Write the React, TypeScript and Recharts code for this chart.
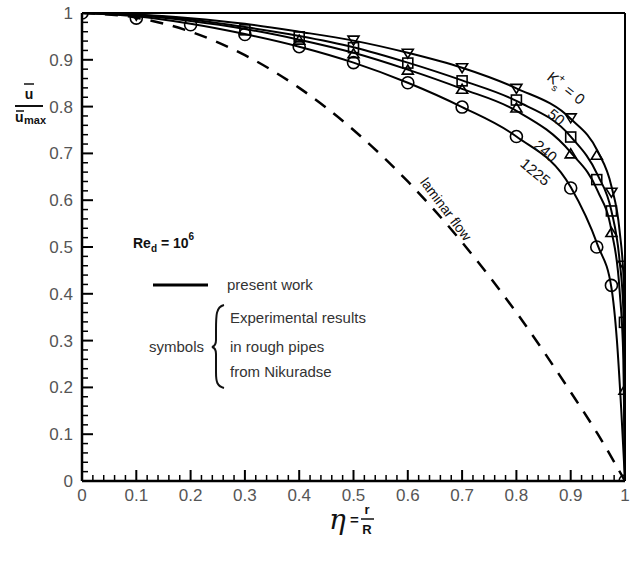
import React from 'react';
import {
  ComposedChart,
  Line,
  Scatter,
  XAxis,
  YAxis,
  ReferenceLine,
} from 'recharts';

// Velocity profiles u/umax against eta = r/R, Re_d = 10^6
const profileKs0 = [
  [0, 1], [0.1, 0.997], [0.2, 0.989], [0.3, 0.977], [0.4, 0.96], [0.5, 0.941],
  [0.6, 0.915], [0.7, 0.883], [0.8, 0.839], [0.9, 0.774], [0.95, 0.704],
  [0.975, 0.63], [0.99, 0.535], [0.998, 0.418], [1, 0],
];
const profileKs50 = [
  [0, 1], [0.1, 0.996], [0.2, 0.986], [0.3, 0.97], [0.4, 0.951], [0.5, 0.927],
  [0.6, 0.894], [0.7, 0.856], [0.8, 0.812], [0.9, 0.736], [0.95, 0.653],
  [0.975, 0.577], [0.99, 0.471], [0.997, 0.365], [1, 0],
];
const profileKs240 = [
  [0, 1], [0.1, 0.995], [0.2, 0.983], [0.3, 0.966], [0.4, 0.943], [0.5, 0.915],
  [0.6, 0.879], [0.7, 0.838], [0.8, 0.791], [0.9, 0.702], [0.95, 0.619],
  [0.975, 0.535], [0.99, 0.408], [0.997, 0.26], [1, 0],
];
const profileKs1225 = [
  [0, 1], [0.1, 0.993], [0.2, 0.977], [0.3, 0.955], [0.4, 0.928], [0.5, 0.894],
  [0.6, 0.851], [0.7, 0.799], [0.8, 0.736], [0.9, 0.628], [0.95, 0.503],
  [0.975, 0.413], [0.985, 0.302], [0.993, 0.154], [1, 0],
];
const laminar = [
  [0, 1], [0.1, 0.99], [0.2, 0.96], [0.3, 0.91], [0.4, 0.84], [0.5, 0.75],
  [0.6, 0.64], [0.7, 0.51], [0.8, 0.36], [0.9, 0.19], [0.95, 0.1], [1, 0],
];

// Nikuradse measurements
const downTriangles = [
  [0.1, 0.995], [0.5, 0.942], [0.6, 0.914], [0.7, 0.883], [0.8, 0.839],
  [0.9, 0.776], [0.975, 0.617], [0.998, 0.461],
];
const squares = [
  [0.3, 0.964], [0.4, 0.949], [0.5, 0.926], [0.6, 0.893], [0.7, 0.855],
  [0.8, 0.814], [0.9, 0.735], [0.948, 0.644], [0.975, 0.577], [0.999, 0.339],
];
const upTriangles = [
  [0.4, 0.942], [0.5, 0.913], [0.6, 0.878], [0.7, 0.837], [0.8, 0.797],
  [0.9, 0.699], [0.948, 0.696], [0.975, 0.531], [0.999, 0.194],
];
const circles = [
  [0, 1], [0.1, 0.989], [0.2, 0.975], [0.3, 0.954], [0.4, 0.928], [0.5, 0.894],
  [0.6, 0.851], [0.7, 0.799], [0.8, 0.736], [0.9, 0.626], [0.948, 0.5],
  [0.975, 0.418], [1, 0],
];

const axisTicks = Array.from({ length: 51 }, (_, i) => i / 50);

const toPoints = (rows: number[][]) => rows.map(([eta, u]) => ({ eta, u }));

const isMajor = (v: number) => Math.abs(v * 10 - Math.round(v * 10)) < 1e-6;
const fmt = (v: number) => (v === 0 ? '0' : v === 1 ? '1' : v.toFixed(1));

const tickFont = { fontFamily: 'Liberation Sans, Arial, sans-serif', fontSize: 17, fill: '#555' };

const XTick = ({ x, y, payload }: any) => {
  const v = payload.value;
  const major = isMajor(v);
  return (
    <g>
      <line x1={x} y1={y} x2={x} y2={y - (major ? 11 : 6)} stroke="#000" strokeWidth={major ? 2 : 1.5} />
      {major && (
        <text x={x} y={y + 20} textAnchor="middle" {...tickFont}>{fmt(v)}</text>
      )}
    </g>
  );
};

const YTick = ({ x, y, payload }: any) => {
  const v = payload.value;
  const major = isMajor(v);
  return (
    <g>
      <line x1={x} y1={y} x2={x + (major ? 11 : 6)} y2={y} stroke="#000" strokeWidth={major ? 2 : 1.5} />
      {major && (
        <text x={x - 9} y={y + 6} textAnchor="end" {...tickFont}>{fmt(v)}</text>
      )}
    </g>
  );
};

const symbolStroke = { stroke: '#000', strokeWidth: 1.6, fill: 'none' };

const DownTri = ({ cx, cy }: any) => (
  <path d={`M${cx - 5.5},${cy - 4} L${cx + 5.5},${cy - 4} L${cx},${cy + 5} Z`} {...symbolStroke} />
);
const UpTri = ({ cx, cy }: any) => (
  <path d={`M${cx - 5.5},${cy + 4} L${cx + 5.5},${cy + 4} L${cx},${cy - 5} Z`} {...symbolStroke} />
);
const Square = ({ cx, cy }: any) => (
  <rect x={cx - 5} y={cy - 5} width={10} height={10} {...symbolStroke} />
);
const Circle = ({ cx, cy }: any) => <circle cx={cx} cy={cy} r={6} {...symbolStroke} />;

const labelFont = { fontFamily: 'Liberation Sans, Arial, sans-serif', fill: '#111' };

export default function App() {
  document.body.style.margin = '0';
  return (
    <div style={{ position: 'relative', width: 634, height: 567, background: '#fff' }}>
      <ComposedChart width={634} height={567} margin={{ top: 13, right: 9, left: 0, bottom: 0 }}>
        <XAxis
          dataKey="eta"
          type="number"
          domain={[0, 1]}
          ticks={axisTicks}
          interval={0}
          allowDataOverflow
          height={86}
          tickSize={0}
          tickMargin={0}
          tickLine={false}
          axisLine={{ stroke: '#000', strokeWidth: 2.5 }}
          tick={<XTick />}
        />
        <YAxis
          dataKey="u"
          type="number"
          domain={[0, 1]}
          ticks={axisTicks}
          interval={0}
          allowDataOverflow
          width={82}
          tickSize={0}
          tickMargin={0}
          tickLine={false}
          axisLine={{ stroke: '#000', strokeWidth: 2.5 }}
          tick={<YTick />}
        />
        <ReferenceLine y={1} stroke="#000" strokeWidth={2} />
        <ReferenceLine x={1} stroke="#000" strokeWidth={2} />

        <Line data={toPoints(laminar)} dataKey="u" type="monotone" stroke="#000" strokeWidth={2.5}
          strokeDasharray="13 10" dot={false} activeDot={false} isAnimationActive={false} />
        <Line data={toPoints(profileKs0)} dataKey="u" type="monotone" stroke="#000" strokeWidth={2}
          dot={false} activeDot={false} isAnimationActive={false} />
        <Line data={toPoints(profileKs50)} dataKey="u" type="monotone" stroke="#000" strokeWidth={2}
          dot={false} activeDot={false} isAnimationActive={false} />
        <Line data={toPoints(profileKs240)} dataKey="u" type="monotone" stroke="#000" strokeWidth={2}
          dot={false} activeDot={false} isAnimationActive={false} />
        <Line data={toPoints(profileKs1225)} dataKey="u" type="monotone" stroke="#000" strokeWidth={2}
          dot={false} activeDot={false} isAnimationActive={false} />

        <Scatter data={toPoints(downTriangles)} dataKey="u" shape={<DownTri />} isAnimationActive={false} />
        <Scatter data={toPoints(squares)} dataKey="u" shape={<Square />} isAnimationActive={false} />
        <Scatter data={toPoints(upTriangles)} dataKey="u" shape={<UpTri />} isAnimationActive={false} />
        <Scatter data={toPoints(circles)} dataKey="u" shape={<Circle />} isAnimationActive={false} />
      </ComposedChart>

      {/* annotations, legend and axis titles */}
      <svg width={634} height={567} style={{ position: 'absolute', left: 0, top: 0, pointerEvents: 'none' }}>
        {/* y axis title: u / u_max */}
        <g {...labelFont} fontWeight="bold">
          <line x1={24} y1={84} x2={34} y2={84} stroke="#111" strokeWidth={1.5} />
          <text x={29} y={99} fontSize={14} textAnchor="middle">u</text>
          <line x1={15} y1={106} x2={43} y2={106} stroke="#111" strokeWidth={2} />
          <line x1={16} y1={111} x2={24} y2={111} stroke="#111" strokeWidth={1.5} />
          <text x={15} y={122} fontSize={14}>u</text>
          <text x={24} y={124} fontSize={11}>max</text>
        </g>

        {/* x axis title: eta = r / R */}
        <g {...labelFont}>
          <text x={329} y={529} fontSize={28} fontStyle="italic" fontFamily="DejaVu Serif, serif">η</text>
          <text x={350} y={525} fontSize={15} fontWeight="bold">=</text>
          <text x={367} y={514} fontSize={13} fontWeight="bold" textAnchor="middle">r</text>
          <line x1={361} y1={519} x2={374} y2={519} stroke="#111" strokeWidth={1.5} />
          <text x={367} y={534} fontSize={13} fontWeight="bold" textAnchor="middle">R</text>
        </g>

        {/* roughness labels along the profiles */}
        <g {...labelFont} fontSize={15}>
          <g transform="translate(546,79) rotate(38)">
            <text x={0} y={0}>
              K<tspan fontSize={10} dy={5}>s</tspan>
              <tspan fontSize={11} dx={-6} dy={-12}>+</tspan>
              <tspan dx={2} dy={7}> = 0</tspan>
            </text>
          </g>
          <text transform="translate(553,121) rotate(40)" textAnchor="middle">50</text>
          <text transform="translate(542,155) rotate(40)" textAnchor="middle">240</text>
          <text transform="translate(532,176) rotate(40)" textAnchor="middle">1225</text>
          <text transform="translate(442,212) rotate(53)" textAnchor="middle" fontSize={14}>laminar flow</text>
        </g>

        {/* Reynolds number */}
        <g {...labelFont} fontSize={14} fontWeight="bold">
          <text x={133} y={248}>
            Re<tspan fontSize={10} dy={4}>d</tspan>
            <tspan dy={-4}> = 10</tspan>
            <tspan fontSize={10} dy={-8}>6</tspan>
          </text>
        </g>

        {/* legend */}
        <g {...labelFont} fontSize={15} fill="#333">
          <line x1={153} y1={285} x2={208} y2={285} stroke="#000" strokeWidth={3} />
          <text x={227} y={290}>present work</text>
          <text x={230} y={323}>Experimental results</text>
          <text x={230} y={352}>in rough pipes</text>
          <text x={230} y={377}>from Nikuradse</text>
          <text x={149} y={352}>symbols</text>
          <path
            d="M224,305 C216,307 216,315 216,330 L216,340 Q216,346 212,347 Q216,348 216,354 L216,372 C216,382 217,386 224,388"
            fill="none"
            stroke="#111"
            strokeWidth={2}
          />
        </g>
      </svg>
    </div>
  );
}
